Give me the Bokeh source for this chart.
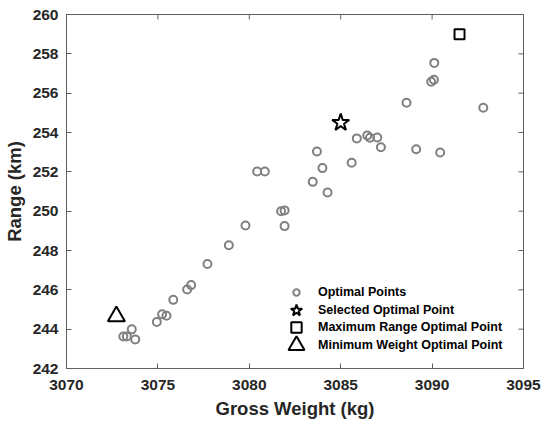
import math
from bokeh.plotting import figure
from bokeh.models import Range1d, FixedTicker, Legend, LegendItem
from bokeh.embed import file_html
from bokeh.resources import INLINE

# ---- data ----
weights = [3090.12, 3090.10, 3089.95, 3088.60, 3092.80, 3085.88, 3086.45, 3086.60,
           3087.00, 3087.20, 3089.13, 3090.44, 3083.70, 3084.00, 3085.60, 3080.43,
           3080.85, 3083.47, 3084.28, 3081.74, 3081.93, 3081.93, 3079.79, 3078.88,
           3077.71, 3076.60, 3076.82, 3075.84, 3075.23, 3075.47, 3074.94, 3073.57,
           3073.11, 3073.30, 3073.76]
ranges = [257.54, 256.68, 256.58, 255.51, 255.26, 253.70, 253.85, 253.73,
          253.75, 253.25, 253.15, 252.98, 253.03, 252.19, 252.46, 252.02,
          252.02, 251.49, 250.95, 250.00, 250.04, 249.24, 249.27, 248.27,
          247.31, 246.02, 246.24, 245.49, 244.76, 244.68, 244.36, 243.99,
          243.63, 243.63, 243.48]
selected_w = [3085.0]
selected_r = [254.5]
maxrange_w = [3091.5]
maxrange_r = [259.0]
minweight_w = [3072.73]
minweight_r = [244.65]
x_ticks = [3070, 3075, 3080, 3085, 3090, 3095]
y_ticks = [242, 244, 246, 248, 250, 252, 254, 256, 258, 260]

FONT = "Liberation Sans"
TXT = "#262626"
AX = "#5f5f5f"

p = figure(width=542, height=423, output_backend="svg", toolbar_location=None,
           x_range=Range1d(3070, 3095), y_range=Range1d(242, 260),
           min_border_left=66, min_border_right=19, min_border_top=14, min_border_bottom=55)
p.grid.visible = False
p.outline_line_color = AX

# inward ticks on the top and right edges of the box (half of each dash is clipped by the frame)
p.scatter(x_ticks, [y_ticks[-1]] * len(x_ticks), marker="dash", angle=math.pi / 2,
          size=10, line_color=AX, line_width=1)
p.scatter([x_ticks[-1]] * len(y_ticks), y_ticks, marker="dash",
          size=10, line_color=AX, line_width=1)

r_opt = p.scatter(weights, ranges, marker="circle", size=8, line_width=2,
                  line_color="#808080", fill_color=None)
r_sel = p.scatter(selected_w, selected_r, marker="star", size=18, line_width=2,
                  line_color="black", fill_color=None)
r_max = p.scatter(maxrange_w, maxrange_r, marker="square", size=10, line_width=2,
                  line_color="black", fill_color=None)
r_min = p.scatter(minweight_w, minweight_r, marker="triangle", size=17, line_width=2,
                  line_color="black", fill_color=None)

p.xaxis.ticker = FixedTicker(ticks=x_ticks, minor_ticks=[])
p.yaxis.ticker = FixedTicker(ticks=y_ticks, minor_ticks=[])
for ax in (p.xaxis[0], p.yaxis[0]):
    ax.axis_line_color = AX
    ax.major_tick_line_color = AX
    ax.major_tick_in = 5
    ax.major_tick_out = 0
    ax.minor_tick_line_color = None
    ax.major_label_text_font = FONT
    ax.major_label_text_font_style = "bold"
    ax.major_label_text_color = TXT
    ax.major_label_text_font_size = "15.5px"
    ax.axis_label_text_font = FONT
    ax.axis_label_text_font_style = "bold"
    ax.axis_label_text_font_size = "18.5px"
    ax.axis_label_text_color = TXT
p.xaxis.major_label_standoff = 11
p.yaxis.major_label_standoff = 8
p.xaxis.axis_label_standoff = 5
p.yaxis.axis_label_standoff = 5
p.xaxis.axis_label = "Gross Weight (kg)"
p.yaxis.axis_label = "Range (km)"

# legends (one per item to mimic different marker sizes)
def add_legend(label, rend, g, cx, cy):
    fl, fb = 66, 368
    left = cx - g / 2
    bottom = cy + g / 2
    leg = Legend(items=[LegendItem(label=label, renderers=[rend])],
                 location=(left - fl, fb - bottom),
                 glyph_width=g, glyph_height=g, label_height=g,
                 label_standoff=int(round(318 - (left + g))),
                 padding=0, margin=0, spacing=0,
                 border_line_alpha=0, background_fill_alpha=0,
                 label_text_font=FONT, label_text_font_style="bold",
                 label_text_font_size="12.5px", label_text_color="black")
    p.add_layout(leg, "center")

add_legend("Optimal Points", r_opt, 16, 296, 291.5)
add_legend("Selected Optimal Point", r_sel, 30, 296, 309.5)
add_legend("Maximum Range Optimal Point", r_max, 26, 296, 327)
add_legend("Minimum Weight Optimal Point", r_min, 40, 296, 345)

open("out.html", "w").write(file_html(p, INLINE))
